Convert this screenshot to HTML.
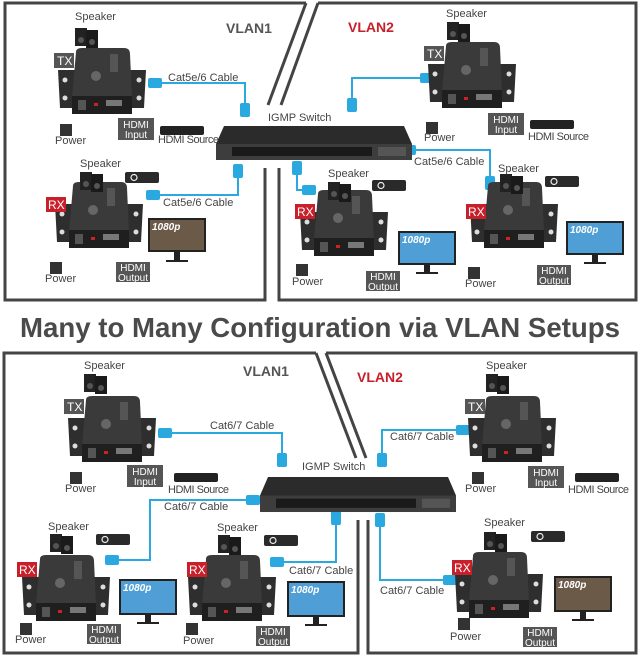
<!DOCTYPE html><html><head><style>body{margin:0;background:#fff}svg{display:block}text{font-family:"Liberation Sans",sans-serif}</style></head><body>
<svg width="640" height="659" viewBox="0 0 640 659" xmlns="http://www.w3.org/2000/svg">
<defs>
<g id="dev">
<path d="M0 22 L88 22 L86 60 L2 60 Z" fill="#2e2e2e"/>
<circle cx="7" cy="32" r="2.5" fill="#ddd"/><circle cx="7" cy="50" r="2.5" fill="#ddd"/>
<circle cx="81" cy="32" r="2.5" fill="#ddd"/><circle cx="81" cy="50" r="2.5" fill="#ddd"/>
<path d="M18 4 Q18 0 24 0 L66 0 Q72 0 72 6 L74 50 L14 50 Z" fill="#3a3a3a"/>
<path d="M14 48 L74 48 L74 66 L14 66 Z" fill="#1f1f1f"/>
<rect x="20" y="52" width="8" height="10" fill="#555"/><rect x="36" y="55" width="4" height="3" fill="#c22"/>
<rect x="48" y="52" width="16" height="6" fill="#777"/>
<circle cx="38" cy="28" r="5" fill="#666"/><rect x="52" y="6" width="8" height="18" fill="#555"/>
</g>
<g id="spk"><rect x="0" y="2" width="12" height="18" fill="#222"/><rect x="11" y="4" width="12" height="18" fill="#1a1a1a"/><circle cx="6" cy="14" r="3" fill="#555"/><circle cx="17" cy="16" r="3" fill="#555"/></g>
<g id="rem"><rect x="0" y="0" width="34" height="11" rx="2" fill="#2a2a2a"/><circle cx="9" cy="5.5" r="3" fill="none" stroke="#eee" stroke-width="1.2"/></g>
<g id="pwr"><rect x="0" y="0" width="12" height="12" fill="#333"/></g>
<g id="src"><rect x="0" y="0" width="44" height="9" rx="2" fill="#222"/></g>
<g id="plugH"><rect x="-2" y="-5" width="14" height="10" rx="2" fill="#29a9df"/></g>
<g id="plugV"><rect x="-5" y="-2" width="10" height="14" rx="2" fill="#29a9df"/></g>
<g id="sw"><path d="M8 0 L188 0 L196 18 L196 34 L0 34 L0 18 Z" fill="#2b2b2b"/><rect x="0" y="18" width="196" height="16" fill="#3d3d3d"/><rect x="16" y="21" width="140" height="9" fill="#1a1a1a"/><rect x="162" y="21" width="28" height="9" fill="#555"/></g>
</defs>
<g fill="none" stroke="#444" stroke-width="3">
<path d="M306 3 L5 3 L5 300 L265 300 L265 168"/><path d="M306 3 L268 105"/><path d="M318 3 L281 105"/>
<path d="M318 3 L636 3 L636 300 L279 300 L279 168"/>
<path d="M316 353 L4 353 L4 653 L358 653 L358 520"/><path d="M316 353 L356 458"/><path d="M326 353 L366 458"/>
<path d="M326 353 L636 353 L636 653 L368 653 L368 520"/>
</g>
<g fill="none" stroke="#29a9df" stroke-width="2">
<path d="M150 83 L245 83 L245 115"/><path d="M148 195 L238 195 L238 168"/>
<path d="M430 78 L352 78 L352 112"/><path d="M410 150 L490 150 L490 185"/><path d="M297 165 L297 190 L312 190"/>
<path d="M160 433 L282 433 L282 465"/><path d="M255 500 L150 500 L150 560 L107 560"/>
<path d="M336 515 L336 562 L272 562"/><path d="M465 430 L382 430 L382 465"/><path d="M380 517 L380 580 L450 580"/>
</g>
<g>
<use href="#plugH" x="150" y="83"/><use href="#plugV" x="245" y="105"/><use href="#plugH" x="148" y="195"/><use href="#plugV" x="238" y="166"/>
<use href="#plugH" x="422" y="78"/><use href="#plugV" x="352" y="100"/><use href="#plugH" x="404" y="150"/><use href="#plugV" x="490" y="178"/><use href="#plugV" x="297" y="163"/><use href="#plugH" x="304" y="190"/>
<use href="#plugH" x="160" y="433"/><use href="#plugV" x="282" y="455"/><use href="#plugH" x="248" y="500"/><use href="#plugH" x="107" y="560"/>
<use href="#plugV" x="336" y="513"/><use href="#plugH" x="272" y="562"/><use href="#plugH" x="458" y="430"/><use href="#plugV" x="382" y="455"/><use href="#plugV" x="380" y="515"/><use href="#plugH" x="445" y="580"/>
</g>
<use href="#sw" x="216" y="126" transform="translate(0,0)"/>
<g transform="translate(260,477) scale(1,1.03)"><use href="#sw"/></g>
<!-- devices top -->
<use href="#dev" x="58" y="48"/><use href="#dev" x="55" y="182"/><use href="#dev" x="428" y="42"/><use href="#dev" x="300" y="190"/><use href="#dev" x="470" y="182"/>
<use href="#dev" x="68" y="396"/><use href="#dev" x="22" y="555"/><use href="#dev" x="188" y="555"/><use href="#dev" x="468" y="396"/><use href="#dev" x="455" y="552"/>
<g>
<use href="#spk" x="75" y="26"/><use href="#spk" x="80" y="170"/><use href="#spk" x="447" y="20"/><use href="#spk" x="328" y="180"/><use href="#spk" x="500" y="172"/>
<use href="#spk" x="84" y="372"/><use href="#spk" x="50" y="532"/><use href="#spk" x="218" y="533"/><use href="#spk" x="486" y="372"/><use href="#spk" x="484" y="530"/>
<use href="#rem" x="125" y="172"/><use href="#rem" x="372" y="180"/><use href="#rem" x="545" y="176"/><use href="#rem" x="96" y="534"/><use href="#rem" x="264" y="535"/><use href="#rem" x="531" y="531"/>
<use href="#pwr" x="60" y="124"/><use href="#pwr" x="50" y="262"/><use href="#pwr" x="426" y="122"/><use href="#pwr" x="296" y="264"/><use href="#pwr" x="468" y="267"/>
<use href="#pwr" x="70" y="472"/><use href="#pwr" x="20" y="623"/><use href="#pwr" x="186" y="623"/><use href="#pwr" x="472" y="472"/><use href="#pwr" x="458" y="618"/>
<use href="#src" x="160" y="126"/><use href="#src" x="530" y="120"/><use href="#src" x="174" y="473"/><use href="#src" x="575" y="473"/>
</g>
<!-- monitors -->
<g fill="#222">
<rect x="148" y="218" width="58" height="34"/><rect x="174" y="252" width="6" height="8"/><rect x="166" y="260" width="22" height="2"/>
<rect x="398" y="231" width="58" height="34"/><rect x="424" y="265" width="6" height="7"/><rect x="416" y="272" width="22" height="2"/>
<rect x="566" y="221" width="58" height="34"/><rect x="592" y="255" width="6" height="7"/><rect x="584" y="262" width="22" height="2"/>
<rect x="119" y="579" width="58" height="36"/><rect x="145" y="615" width="6" height="7"/><rect x="137" y="622" width="22" height="2"/>
<rect x="287" y="581" width="58" height="36"/><rect x="313" y="617" width="6" height="7"/><rect x="305" y="624" width="22" height="2"/>
<rect x="554" y="576" width="58" height="36"/><rect x="580" y="612" width="6" height="7"/><rect x="572" y="619" width="22" height="2"/>
</g>
<g>
<rect x="150" y="220" width="54" height="30" fill="#6b5a48"/><rect x="400" y="233" width="54" height="30" fill="#4f9fd6"/><rect x="568" y="223" width="54" height="30" fill="#4f9fd6"/>
<rect x="121" y="581" width="54" height="32" fill="#4f9fd6"/><rect x="289" y="583" width="54" height="32" fill="#4f9fd6"/><rect x="556" y="578" width="54" height="32" fill="#6b5a48"/>
</g>
<g font-size="10" font-weight="bold" font-style="italic" fill="#fff">
<text x="152" y="230">1080p</text><text x="402" y="243">1080p</text><text x="570" y="233">1080p</text><text x="123" y="591">1080p</text><text x="291" y="593">1080p</text><text x="558" y="588">1080p</text>
</g>
<!-- tags -->
<g fill="#555"><rect x="54" y="53" width="20" height="15"/><rect x="424" y="46" width="20" height="15"/><rect x="64" y="399" width="20" height="15"/><rect x="465" y="399" width="20" height="15"/></g>
<g fill="#c8202b"><rect x="46" y="197" width="20" height="15"/><rect x="295" y="204" width="20" height="15"/><rect x="466" y="204" width="20" height="15"/><rect x="17" y="562" width="20" height="15"/><rect x="187" y="562" width="20" height="15"/><rect x="452" y="560" width="20" height="15"/></g>
<g font-size="12" fill="#fff"><text x="57" y="65">TX</text><text x="427" y="58">TX</text><text x="67" y="411">TX</text><text x="468" y="411">TX</text>
<text x="48" y="209">RX</text><text x="297" y="216">RX</text><text x="468" y="216">RX</text><text x="19" y="574">RX</text><text x="189" y="574">RX</text><text x="454" y="572">RX</text></g>
<g fill="#555"><rect x="118" y="118" width="36" height="22"/><rect x="488" y="113" width="36" height="22"/><rect x="127" y="465" width="36" height="22"/><rect x="528" y="466" width="36" height="22"/>
<rect x="116" y="262" width="34" height="20"/><rect x="366" y="271" width="34" height="20"/><rect x="537" y="265" width="34" height="20"/><rect x="87" y="624" width="34" height="20"/><rect x="256" y="626" width="34" height="20"/><rect x="523" y="627" width="34" height="20"/></g>
<g font-size="10" fill="#fff" text-anchor="middle">
<text x="136" y="128">HDMI</text><text x="136" y="138">Input</text><text x="506" y="123">HDMI</text><text x="506" y="133">Input</text>
<text x="145" y="475">HDMI</text><text x="145" y="485">Input</text><text x="546" y="476">HDMI</text><text x="546" y="486">Input</text>
<text x="133" y="271">HDMI</text><text x="133" y="281">Output</text><text x="383" y="280">HDMI</text><text x="383" y="290">Output</text><text x="554" y="274">HDMI</text><text x="554" y="284">Output</text>
<text x="104" y="633">HDMI</text><text x="104" y="643">Output</text><text x="273" y="635">HDMI</text><text x="273" y="645">Output</text><text x="540" y="636">HDMI</text><text x="540" y="646">Output</text>
</g>
<g font-size="11" fill="#444">
<text x="75" y="20">Speaker</text><text x="80" y="167">Speaker</text><text x="446" y="17">Speaker</text><text x="328" y="177">Speaker</text><text x="498" y="172">Speaker</text>
<text x="84" y="369">Speaker</text><text x="48" y="530">Speaker</text><text x="217" y="531">Speaker</text><text x="486" y="369">Speaker</text><text x="484" y="526">Speaker</text>
<text x="55" y="144">Power</text><text x="45" y="282">Power</text><text x="424" y="141">Power</text><text x="292" y="285">Power</text><text x="465" y="287">Power</text>
<text x="65" y="492">Power</text><text x="15" y="643">Power</text><text x="183" y="644">Power</text><text x="465" y="492">Power</text><text x="450" y="640">Power</text>
<text x="158" y="143" letter-spacing="-0.5">HDMI Source</text><text x="528" y="140" letter-spacing="-0.5">HDMI Source</text><text x="168" y="493" letter-spacing="-0.5">HDMI Source</text><text x="568" y="493" letter-spacing="-0.5">HDMI Source</text>
<text x="268" y="121">IGMP Switch</text><text x="302" y="470">IGMP Switch</text>
<text x="168" y="81">Cat5e/6 Cable</text><text x="163" y="206">Cat5e/6 Cable</text><text x="414" y="165">Cat5e/6 Cable</text>
<text x="210" y="429">Cat6/7 Cable</text><text x="164" y="510">Cat6/7 Cable</text><text x="289" y="574">Cat6/7 Cable</text><text x="390" y="440">Cat6/7 Cable</text><text x="380" y="594">Cat6/7 Cable</text>
</g>
<g font-size="14" font-weight="bold"><text x="226" y="33" fill="#555">VLAN1</text><text x="348" y="32" fill="#c8202b">VLAN2</text><text x="243" y="376" fill="#555">VLAN1</text><text x="357" y="382" fill="#c8202b">VLAN2</text></g>
<text x="320" y="337" text-anchor="middle" font-size="28" font-weight="bold" fill="#4a4a4a" textLength="600" lengthAdjust="spacingAndGlyphs">Many to Many Configuration via VLAN Setups</text>
</svg>
</body></html>
